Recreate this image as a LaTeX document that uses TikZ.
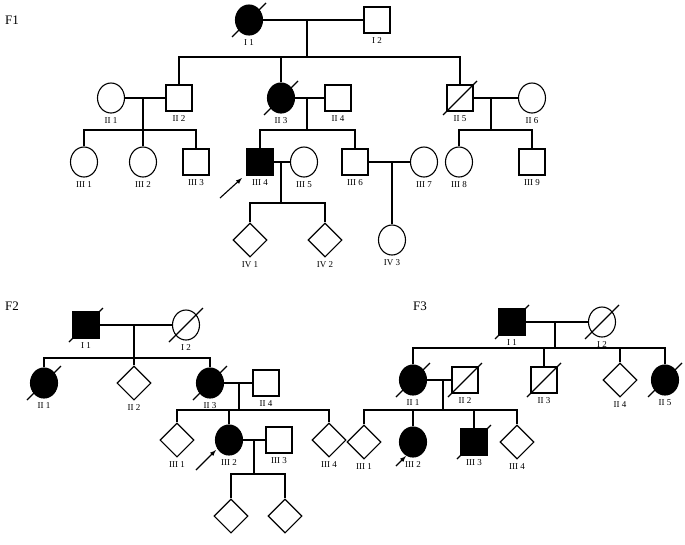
\documentclass[tikz,border=0pt]{standalone}
\usepackage{fontspec}
\setmainfont{Liberation Serif}
\usetikzlibrary{shapes.geometric}

\tikzset{
  ind/.style={draw, line width=1.1pt, inner sep=0pt},
  male/.style={ind, rectangle, minimum size=26pt},
  female/.style={ind, ellipse, minimum width=27pt, minimum height=30pt},
  unk/.style={ind, diamond, minimum size=34pt},
  aff/.style={fill=black},
  lbl/.style={font=\fontsize{9}{10}\selectfont, inner sep=1pt},
  tag/.style={font=\fontsize{13}{14}\selectfont},
  line/.style={line width=1.1pt},
  dead/.style={line width=1.1pt},
  pointer/.style={line width=1.1pt, -latex}
}
\newcommand{\gone}[1]{\draw[dead] ([shift={(-17,17)}]#1.center) -- ([shift={(17,-17)}]#1.center);}

\begin{document}
\begin{tikzpicture}[x=1pt, y=-1pt]
  \useasboundingbox (0,0) rectangle (685,544);

  % F1
  \node[tag] (f1) at (12,20) {F1};
  \node[female, aff] (a1) at (249,20) {};
  \node[male] (a2) at (377,20) {};
  \node[female] (b1) at (111,98) {};
  \node[male] (b2) at (179,98) {};
  \node[female, aff] (b3) at (281,98) {};
  \node[male] (b4) at (338,98) {};
  \node[male] (b5) at (460,98) {};
  \node[female] (b6) at (532,98) {};
  \node[female] (c1) at (84,162) {};
  \node[female] (c2) at (143,162) {};
  \node[male] (c3) at (196,162) {};
  \node[male, aff] (c4) at (260,162) {};
  \node[female] (c5) at (304,162) {};
  \node[male] (c6) at (355,162) {};
  \node[female] (c7) at (424,162) {};
  \node[female] (c8) at (459,162) {};
  \node[male] (c9) at (532,162) {};
  \node[unk] (d1) at (250,240) {};
  \node[unk] (d2) at (325,240) {};
  \node[female] (d3) at (392,240) {};
  \foreach \n/\t in {a1/I 1,a2/I 2,b1/II 1,b2/II 2,b3/II 3,b4/II 4,b5/II 5,b6/II 6,
      c1/III 1,c2/III 2,c3/III 3,c4/III 4,c5/III 5,c6/III 6,c7/III 7,c8/III 8,c9/III 9,
      d1/IV 1,d2/IV 2,d3/IV 3}
    \node[lbl, below=3pt] at (\n.south) {\t};
  \gone{a1} \gone{b3} \gone{b5}

  \coordinate (m1) at (307,20);  \coordinate (s1) at (307,57);
  \coordinate (m2) at (143,98);  \coordinate (s2) at (143,130);
  \coordinate (m3) at (307,98);  \coordinate (s3) at (307,130);
  \coordinate (m4) at (491,98);  \coordinate (s4) at (491,130);
  \coordinate (m5) at (281,162); \coordinate (s5) at (281,203);
  \coordinate (m6) at (392,162);
  \draw[line] (a1) -- (a2) (m1) -- (s1);
  \draw[line] (b2.north) |- (s1) -| (b5.north) (b3.north) -- (b3.north |- s1);
  \draw[line] (b1) -- (b2) (m2) -- (s2);
  \draw[line] (c1.north) |- (s2) -| (c3.north) (c2.north) -- (s2);
  \draw[line] (b3) -- (b4) (m3) -- (s3);
  \draw[line] (c4.north) |- (s3) -| (c6.north);
  \draw[line] (b5) -- (b6) (m4) -- (s4);
  \draw[line] (c8.north) |- (s4) -| (c9.north);
  \draw[line] (c4) -- (c5) (m5) -- (s5);
  \draw[line] (d1.north) |- (s5) -| (d2.north);
  \draw[line] (c6) -- (c7) (m6) -- (d3.north);
  \draw[pointer] (220,198) -- (242,178);

  % F2
  \node[tag] (f2) at (12,306) {F2};
  \node[male, aff] (p1) at (86,325) {};
  \node[female] (p2) at (186,325) {};
  \node[female, aff] (q1) at (44,383) {};
  \node[unk] (q2) at (134,383) {};
  \node[female, aff] (q3) at (210,383) {};
  \node[male] (q4) at (266,383) {};
  \node[unk] (r1) at (177,440) {};
  \node[female, aff] (r2) at (229,440) {};
  \node[male] (r3) at (279,440) {};
  \node[unk] (r4) at (329,440) {};
  \node[unk] (t1) at (231,516) {};
  \node[unk] (t2) at (285,516) {};
  \foreach \n/\t in {p1/I 1,p2/I 2,q1/II 1,q2/II 2,q3/II 3,q4/II 4,
      r1/III 1,r2/III 2,r3/III 3,r4/III 4}
    \node[lbl, below=3pt] at (\n.south) {\t};
  \gone{p1} \gone{p2} \gone{q1} \gone{q3}
  \coordinate (n1) at (134,325); \coordinate (k1) at (134,358);
  \coordinate (n2) at (239,383); \coordinate (k2) at (239,410);
  \coordinate (n3) at (254,440); \coordinate (k3) at (254,474);
  \draw[line] (p1) -- (p2) (n1) -- (k1);
  \draw[line] (q1.north) |- (k1) -| (q3.north) (q2.north) -- (k1);
  \draw[line] (q3) -- (q4) (n2) -- (k2);
  \draw[line] (r1.north) |- (k2) -| (r4.north) (r2.north) -- (r2.north |- k2);
  \draw[line] (r2) -- (r3) (n3) -- (k3);
  \draw[line] (t1.north) |- (k3) -| (t2.north);
  \draw[pointer] (196,470) -- (216,450);

  % F3
  \node[tag] (f3) at (420,306) {F3};
  \node[male, aff] (u1) at (512,322) {};
  \node[female] (u2) at (602,322) {};
  \node[female, aff] (v1) at (413,380) {};
  \node[male] (v2) at (465,380) {};
  \node[male] (v3) at (544,380) {};
  \node[unk] (v4) at (620,380) {};
  \node[female, aff] (v5) at (665,380) {};
  \node[unk] (w1) at (364,442) {};
  \node[female, aff] (w2) at (413,442) {};
  \node[male, aff] (w3) at (474,442) {};
  \node[unk] (w4) at (517,442) {};
  \foreach \n/\t in {u1/I 1,u2/I 2,v1/II 1,v2/II 2,v3/II 3,v4/II 4,v5/II 5,
      w1/III 1,w2/III 2,w3/III 3,w4/III 4}
    \node[lbl, below=3pt] at (\n.south) {\t};
  \gone{u1} \gone{u2} \gone{v1} \gone{v2} \gone{v3} \gone{v5} \gone{w3}
  \coordinate (o1) at (555,322); \coordinate (g1) at (555,348);
  \coordinate (o2) at (443,380); \coordinate (g2) at (443,410);
  \draw[line] (u1) -- (u2) (o1) -- (g1);
  \draw[line] (v1.north) |- (g1) -| (v5.north);
  \draw[line] (v3.north) -- (v3.north |- g1) (v4.north) -- (v4.north |- g1);
  \draw[line] (v1) -- (v2) (o2) -- (g2);
  \draw[line] (w1.north) |- (g2) -| (w4.north);
  \draw[line] (w2.north) -- (w2.north |- g2) (w3.north) -- (w3.north |- g2);
  \draw[pointer] (396,466) -- (406,456);
\end{tikzpicture}
\end{document}
